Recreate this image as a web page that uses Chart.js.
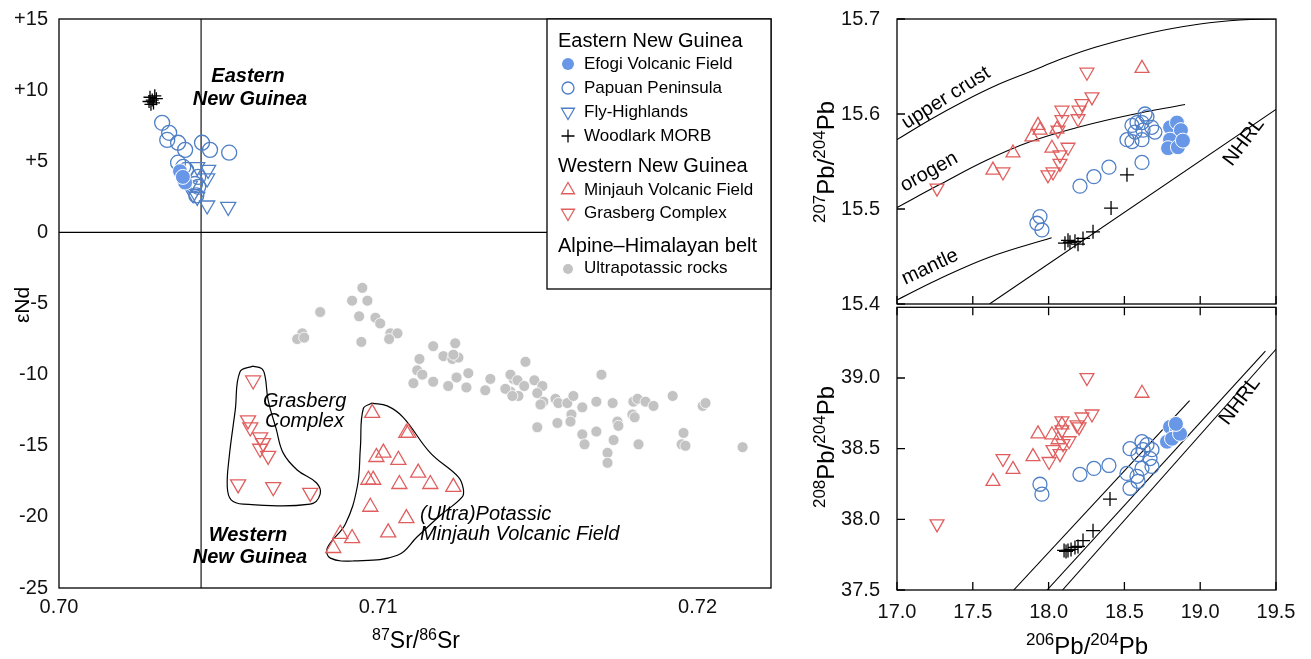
<!DOCTYPE html>
<html><head><meta charset="utf-8">
<script src="https://cdn.jsdelivr.net/npm/chart.js@4.4.1/dist/chart.umd.min.js"></script>
<style>
html,body{margin:0;padding:0;background:#fff;width:1311px;height:659px;overflow:hidden}
body{position:relative}
canvas{position:absolute}
#c1{left:0;top:0}
#c2{left:800px;top:0}
#c3{left:800px;top:298px}
</style></head><body>
<canvas id="c1" width="800" height="659" style="width:800px;height:659px"></canvas>
<canvas id="c2" width="511" height="340" style="width:511px;height:340px"></canvas>
<canvas id="c3" width="511" height="361" style="width:511px;height:361px"></canvas>
<script>
// ---------------- DATA: 87Sr/86Sr vs eNd ----------------
const srNd_Efogi = [[0.70379,4.3],[0.70395,3.5],[0.70388,3.9]];
const srNd_Papuan = [[0.70323,7.7],[0.70345,7.0],[0.70339,6.5],[0.70373,6.3],[0.70395,5.8],[0.70448,6.3],[0.70473,5.8],[0.70533,5.6],[0.70373,4.9],[0.70389,4.6],[0.70398,4.4],[0.70436,3.9],[0.70426,3.4],[0.70436,3.2],[0.70430,2.6]];
const srNd_Fly = [[0.70433,4.6],[0.70467,4.4],[0.70464,3.8],[0.70410,3.3],[0.70420,2.7],[0.70433,2.5],[0.70464,1.9],[0.70530,1.8]];
const srNd_Woodlark = [[0.70285,9.5],[0.70292,9.3],[0.70300,9.6],[0.70288,9.0],[0.70296,9.1],[0.70305,9.4],[0.70282,9.2]];
const srNd_Minjauh = [[0.70981,-12.7],[0.71088,-14.1],[0.71094,-14.1],[0.70994,-15.8],[0.71016,-15.5],[0.71063,-16.0],[0.71125,-16.9],[0.71163,-17.7],[0.71235,-17.9],[0.70969,-17.4],[0.70984,-17.4],[0.71066,-17.7],[0.70975,-19.3],[0.71088,-20.1],[0.71031,-21.1],[0.70881,-21.2],[0.70918,-21.5],[0.70859,-22.2]];
const srNd_Grasberg = [[0.70608,-10.4],[0.70592,-13.2],[0.70599,-13.7],[0.70630,-14.4],[0.70639,-14.8],[0.70630,-15.2],[0.70655,-15.7],[0.70561,-17.7],[0.70671,-17.9],[0.70787,-18.3]];
const srNd_Ultra = [
[0.70950,-3.9],[0.70918,-4.8],[0.70966,-4.8],[0.70818,-5.6],[0.70940,-5.9],[0.70991,-6.0],[0.71006,-6.4],
[0.70762,-7.1],[0.70746,-7.5],[0.70768,-7.4],[0.70947,-7.7],[0.71038,-7.1],[0.71060,-7.1],[0.71034,-7.5],
[0.71172,-8.0],[0.71241,-7.8],[0.71204,-8.7],[0.71232,-8.9],[0.71251,-8.8],[0.71235,-8.6],[0.71129,-8.9],
[0.71122,-9.7],[0.71138,-10.0],[0.71110,-10.6],[0.71172,-10.5],[0.71219,-10.8],[0.71245,-10.2],[0.71282,-9.9],
[0.71276,-10.9],[0.71351,-10.3],[0.71335,-11.1],[0.71423,-10.3],[0.71461,-9.1],[0.71414,-11.2],[0.71439,-11.5],
[0.71414,-10.0],[0.71436,-10.4],[0.71457,-10.8],[0.71398,-11.0],[0.71420,-11.5],
[0.71489,-10.4],[0.71514,-10.8],[0.71498,-11.3],[0.71517,-11.9],[0.71508,-12.1],[0.71555,-11.7],[0.71564,-12.0],
[0.71592,-12.0],[0.71611,-11.5],[0.71639,-12.3],[0.71605,-12.8],[0.71602,-13.3],[0.71498,-13.7],[0.71561,-13.4],
[0.71639,-14.2],[0.71646,-14.9],[0.71683,-11.9],[0.71683,-14.0],[0.71699,-10.0],[0.71734,-12.0],[0.71749,-13.3],
[0.71752,-13.6],[0.71737,-14.6],[0.71718,-15.5],[0.71718,-16.2],[0.71796,-12.8],[0.71803,-13.0],[0.71799,-11.9],
[0.71812,-11.7],[0.71837,-11.9],[0.71862,-12.2],[0.71815,-14.9],[0.71922,-11.5],[0.71956,-14.1],[0.71950,-14.9],
[0.71962,-15.0],[0.72016,-12.2],[0.72025,-12.0],[0.72141,-15.1]];
const srNd_GrasbergOutline = [[0.70608,-9.4],[0.70567,-9.8],[0.70552,-12.5],[0.70533,-15.8],[0.70527,-17.9],[0.70539,-18.8],[0.70577,-19.1],[0.70787,-19.1],[0.70818,-18.4],[0.70806,-17.6],[0.70746,-16.7],[0.70702,-15.5],[0.70680,-13.8],[0.70655,-11.8],[0.70646,-10.2],[0.70636,-9.6],[0.70608,-9.4]];
const srNd_MinjauhOutline = [[0.70981,-12.0],[0.70953,-12.4],[0.70944,-15.1],[0.70934,-17.9],[0.70897,-20.5],[0.70840,-22.2],[0.70850,-22.9],[0.70922,-23.1],[0.71060,-22.7],[0.71122,-21.4],[0.71194,-19.9],[0.71263,-18.6],[0.71266,-18.0],[0.71251,-17.2],[0.71163,-15.5],[0.71078,-13.0],[0.71028,-12.2],[0.70981,-12.0]];
const srRefLine = [[0.70445,-25],[0.70445,15]];
const ndZeroLine = [[0.70,0],[0.7223,0]];
const srTicks = [0.70,0.71,0.72];
const ndTicks = [-25,-20,-15,-10,-5,0,5,10,15];

// ---------------- DATA: 206Pb/204Pb vs 207Pb/204Pb ----------------
const pb7_Efogi = [[18.801,15.586],[18.847,15.591],[18.873,15.583],[18.801,15.573],[18.788,15.564],[18.853,15.565],[18.886,15.572]];
const pb7_Papuan = [[17.943,15.492],[17.956,15.478],[17.923,15.485],[18.207,15.524],[18.299,15.534],[18.398,15.544],[18.616,15.549],[18.517,15.573],[18.550,15.571],[18.616,15.573],[18.570,15.581],[18.616,15.591],[18.649,15.597],[18.636,15.600],[18.680,15.586],[18.701,15.581],[18.583,15.591],[18.550,15.588],[18.623,15.583]];
const pb7_Woodlark = [[18.517,15.536],[18.412,15.501],[18.293,15.476],[18.227,15.469],[18.174,15.466],[18.141,15.465],[18.108,15.464],[18.194,15.463],[18.128,15.467]];
const pb7_Minjauh = [[18.616,15.648],[17.930,15.588],[17.943,15.583],[17.890,15.576],[17.765,15.559],[17.633,15.541],[18.055,15.584],[18.022,15.564]];
const pb7_Grasberg = [[18.253,15.644],[18.286,15.618],[18.220,15.611],[18.201,15.604],[18.088,15.604],[18.088,15.594],[18.194,15.595],[18.062,15.583],[18.128,15.565],[18.075,15.557],[18.075,15.548],[17.996,15.536],[18.029,15.539],[17.699,15.539],[17.264,15.522]];
const upperCrust = [[17.0,15.573],[17.218,15.594],[17.435,15.613],[17.66,15.6305],[17.877,15.6445],[18.095,15.6586],[18.319,15.6708],[18.669,15.6853],[18.999,15.6947],[19.263,15.699],[19.5,15.7]];
const orogen = [[17.0,15.5016],[17.284,15.526],[17.594,15.5516],[17.877,15.5708],[18.207,15.5866],[18.537,15.599],[18.9,15.61]];
const mantle = [[17.0,15.4042],[17.264,15.4253],[17.613,15.4495],[18.02,15.4698]];
const nhrl7 = [[17.61,15.4],[19.5,15.6048]];
const pb7Ticks = [15.4,15.5,15.6,15.7];

// ---------------- DATA: 206Pb/204Pb vs 208Pb/204Pb ----------------
const pb8_Efogi = [[18.801,38.654],[18.847,38.633],[18.781,38.549],[18.814,38.570],[18.867,38.605],[18.840,38.675]];
const pb8_Papuan = [[17.943,38.248],[17.956,38.178],[18.207,38.318],[18.299,38.360],[18.398,38.381],[18.517,38.325],[18.537,38.500],[18.616,38.549],[18.649,38.528],[18.623,38.493],[18.590,38.458],[18.682,38.493],[18.616,38.360],[18.682,38.374],[18.583,38.304],[18.590,38.269],[18.537,38.220],[18.669,38.430]];
const pb8_Woodlark = [[18.405,38.143],[18.293,37.920],[18.227,37.850],[18.174,37.801],[18.128,37.780],[18.102,37.780],[18.148,37.787],[18.194,37.808],[18.115,37.773]];
const pb8_Minjauh = [[18.616,38.892],[17.930,38.605],[18.022,38.598],[18.088,38.668],[17.897,38.444],[17.765,38.353],[17.633,38.269],[18.062,38.563]];
const pb8_Grasberg = [[18.253,39.003],[18.286,38.745],[18.220,38.724],[18.201,38.654],[18.088,38.696],[18.088,38.633],[18.135,38.556],[18.095,38.535],[18.029,38.493],[18.003,38.409],[18.075,38.465],[17.699,38.430],[17.264,37.968],[18.187,38.668]];
const nhrl8 = [[18.092,37.5],[19.5,39.203]];
const refLine8a = [[17.77,37.5],[18.93,38.84]];
const refLine8b = [[17.99,37.5],[19.43,39.19]];
const pb6Ticks = [17.0,17.5,18.0,18.5,19.0,19.5];
const pb8Ticks = [37.5,38.0,38.5,39.0];

// ---------------- STYLE ----------------
const FONT = "'Liberation Sans', Arial, Helvetica, sans-serif";
const BLUE = '#4f7fc6';
const BLUE_FILL = '#6797e6';
const RED = '#e15e5e';
const GRAY = '#c3c3c3';
const pts = a => a.map(p => ({x:p[0], y:p[1]}));

function openCircle(data, r){ return {data:pts(data), pointStyle:'circle', pointRadius:r, backgroundColor:'rgba(0,0,0,0)', borderColor:BLUE, borderWidth:1.3, order:2}; }
function filledCircle(data, r){ return {data:pts(data), pointStyle:'circle', pointRadius:r, backgroundColor:BLUE_FILL, borderColor:'#fff', borderWidth:1, order:1}; }
function tri(data, r, color, down){ return {data:pts(data), pointStyle:'triangle', pointRotation: down?180:0, pointRadius:r, backgroundColor:'rgba(0,0,0,0)', borderColor:color, borderWidth:1.3, order:2}; }
function cross(data, r){ return {data:pts(data), pointStyle:'cross', pointRadius:r, borderColor:'#000', borderWidth:1.3, order:1}; }
function curve(data, w){ return {data:pts(data), showLine:true, pointRadius:0, borderColor:'#000', borderWidth:w||1.1, tension:0.4, fill:false, order:10}; }

function drawRich(ctx, parts, cx, cy, rot, base, sup){
  ctx.save(); ctx.translate(cx, cy); ctx.rotate(rot);
  let w = 0;
  parts.forEach(p => { ctx.font = (p[1]?sup:base)+'px '+FONT; w += ctx.measureText(p[0]).width; });
  let x = -w/2; const bl = base*0.36;
  ctx.textBaseline = 'alphabetic'; ctx.textAlign = 'left'; ctx.fillStyle = '#000';
  parts.forEach(p => { ctx.font = (p[1]?sup:base)+'px '+FONT; ctx.fillText(p[0], x, p[1] ? bl - base*0.38 : bl); x += ctx.measureText(p[0]).width; });
  ctx.restore();
}
function drawMarker(ctx, kind, x, y){
  ctx.save(); ctx.lineWidth = 1.3;
  const triPath = (r, down) => { const s = down?-1:1; ctx.beginPath(); ctx.moveTo(x, y - s*r); ctx.lineTo(x + r*0.866, y + s*r/2); ctx.lineTo(x - r*0.866, y + s*r/2); ctx.closePath(); };
  if (kind==='efogi'){ ctx.fillStyle = BLUE_FILL; ctx.beginPath(); ctx.arc(x,y,6,0,Math.PI*2); ctx.fill(); }
  else if (kind==='papuan'){ ctx.strokeStyle = BLUE; ctx.beginPath(); ctx.arc(x,y,6,0,Math.PI*2); ctx.stroke(); }
  else if (kind==='fly'){ ctx.strokeStyle = BLUE; triPath(7.5,true); ctx.stroke(); }
  else if (kind==='woodlark'){ ctx.strokeStyle = '#000'; ctx.beginPath(); ctx.moveTo(x-6.5,y); ctx.lineTo(x+6.5,y); ctx.moveTo(x,y-6.5); ctx.lineTo(x,y+6.5); ctx.stroke(); }
  else if (kind==='minjauh'){ ctx.strokeStyle = RED; triPath(7.5,false); ctx.stroke(); }
  else if (kind==='grasberg'){ ctx.strokeStyle = RED; triPath(7.5,true); ctx.stroke(); }
  else if (kind==='ultra'){ ctx.fillStyle = GRAY; ctx.beginPath(); ctx.arc(x,y+1,5,0,Math.PI*2); ctx.fill(); }
  ctx.restore();
}
const legendRows = [
  ['h','Eastern New Guinea',41],['efogi','Efogi Volcanic Field',64],['papuan','Papuan Peninsula',88],['fly','Fly-Highlands',112],['woodlark','Woodlark MORB',136],
  ['h','Western New Guinea',166],['minjauh','Minjauh Volcanic Field',190],['grasberg','Grasberg Complex',213],
  ['h','Alpine\u2013Himalayan belt',246],['ultra','Ultrapotassic rocks',268]
];

function decor(cfg){
  return { id:'decor', afterDatasetsDraw(chart){
    const ctx = chart.ctx, a = chart.chartArea, sx = chart.scales.x, sy = chart.scales.y;
    ctx.save();
    ctx.strokeStyle = '#000'; ctx.lineWidth = 1.3;
    ctx.strokeRect(a.left, a.top, a.right-a.left, a.bottom-a.top);
    const L = 8; ctx.beginPath();
    (cfg.tickLeft||[]).forEach(v => { const y = sy.getPixelForValue(v); ctx.moveTo(a.left,y); ctx.lineTo(a.left+L,y); });
    (cfg.tickBottom||[]).forEach(v => { const x = sx.getPixelForValue(v); ctx.moveTo(x,a.bottom); ctx.lineTo(x,a.bottom-L); });
    (cfg.tickTop||[]).forEach(v => { const x = sx.getPixelForValue(v); ctx.moveTo(x,a.top); ctx.lineTo(x,a.top+L); });
    ctx.stroke();
    const ox = cfg.ox||0, oy = cfg.oy||0;
    (cfg.texts||[]).forEach(t => {
      ctx.save(); ctx.translate(t.x-ox, t.y-oy); ctx.rotate((t.rot||0)*Math.PI/180);
      ctx.font = t.font + ' ' + FONT; ctx.fillStyle = '#000'; ctx.textAlign = t.align||'center'; ctx.textBaseline = 'middle';
      ctx.fillText(t.t, 0, 0); ctx.restore();
    });
    (cfg.titles||[]).forEach(t => drawRich(ctx, t.parts, t.x-ox, t.y-oy, (t.rot||0)*Math.PI/180, t.base, t.sup));
    if (cfg.legend){
      const L0 = 547, T0 = 19, R0 = 771, B0 = 289;
      ctx.fillStyle = '#fff'; ctx.fillRect(L0, T0, R0-L0, B0-T0);
      ctx.strokeStyle = '#000'; ctx.lineWidth = 1.3; ctx.strokeRect(L0, T0, R0-L0, B0-T0);
      legendRows.forEach(r => {
        ctx.fillStyle = '#000'; ctx.textBaseline = 'middle'; ctx.textAlign = 'left';
        if (r[0]==='h'){ ctx.font = '20px '+FONT; ctx.fillText(r[1], 558, r[2]); }
        else { drawMarker(ctx, r[0], 568, r[2]); ctx.fillStyle = '#000'; ctx.font = '17px '+FONT; ctx.fillText(r[1], 584, r[2]); }
      });
    }
    ctx.restore();
  }};
}

const tickFont = {family: FONT, size: 20};
const noPad = s => { s.paddingTop = 0; s.paddingBottom = 0; s.paddingLeft = 0; s.paddingRight = 0; };
const baseOpts = (xs, ys, pad) => ({
  responsive:false, animation:false, events:[],
  layout:{padding:pad},
  plugins:{legend:{display:false}, tooltip:{enabled:false}},
  scales:{x:xs, y:ys}
});

// ---------- Chart 1 ----------
new Chart(document.getElementById('c1'), {
  type:'scatter',
  data:{datasets:[
    {data:pts(srRefLine), showLine:true, pointRadius:0, borderColor:'#000', borderWidth:1.1, order:20},
    {data:pts(ndZeroLine), showLine:true, pointRadius:0, borderColor:'#000', borderWidth:1.1, order:20},
    curve(srNd_GrasbergOutline, 1.2), curve(srNd_MinjauhOutline, 1.2),
    {data:pts(srNd_Ultra), pointStyle:'circle', pointRadius:5.5, backgroundColor:GRAY, borderColor:'#fff', borderWidth:0.8, order:5},
    tri(srNd_Fly, 8.7, BLUE, true),
    openCircle(srNd_Papuan, 7.5),
    filledCircle(srNd_Efogi, 7.5),
    cross(srNd_Woodlark, 6.5),
    tri(srNd_Minjauh, 8.7, RED, false),
    tri(srNd_Grasberg, 8.7, RED, true)
  ]},
  options: baseOpts(
    {type:'linear', min:0.70, max:0.7223, afterFit:s=>{s.height=71; noPad(s);}, grid:{display:false, drawTicks:false}, border:{display:false},
      afterBuildTicks:s=>{ s.ticks = srTicks.map(v=>({value:v})); },
      ticks:{font:tickFont, color:'#111', padding:7, autoSkip:false, maxRotation:0, callback:v=>v.toFixed(2)}},
    {type:'linear', min:-25, max:15, afterFit:s=>{s.width=59; noPad(s);}, grid:{display:false, drawTicks:false}, border:{display:false},
      afterBuildTicks:s=>{ s.ticks = ndTicks.map(v=>({value:v})); },
      ticks:{font:tickFont, color:'#111', padding:11, autoSkip:false, callback:v=> v>0 ? '+'+v : String(v)}},
    {top:19, right:29, bottom:0, left:0}),
  plugins:[decor({legend:true,
    texts:[
      {t:'Eastern', x:248, y:76, font:'italic bold 20px'},
      {t:'New Guinea', x:250, y:99, font:'italic bold 20px'},
      {t:'Western', x:248, y:535, font:'italic bold 20px'},
      {t:'New Guinea', x:250, y:557, font:'italic bold 20px'},
      {t:'Grasberg', x:263, y:401, font:'italic 20px', align:'left'},
      {t:'Complex', x:265, y:421, font:'italic 20px', align:'left'},
      {t:'(Ultra)Potassic', x:420, y:514, font:'italic 20px', align:'left'},
      {t:'Minjauh Volcanic Field', x:420, y:534, font:'italic 20px', align:'left'}
    ],
    titles:[
      {parts:[['\u03b5Nd',false]], x:21, y:305, rot:-90, base:21, sup:15},
      {parts:[['87',true],['Sr/',false],['86',true],['Sr',false]], x:416, y:640, base:23, sup:16}
    ]})]
});

// ---------- Chart 2 ----------
new Chart(document.getElementById('c2'), {
  type:'scatter',
  data:{datasets:[
    curve(upperCrust), curve(orogen), curve(mantle),
    {data:pts(nhrl7), showLine:true, pointRadius:0, borderColor:'#000', borderWidth:1.1, order:10},
    openCircle(pb7_Papuan, 7),
    filledCircle(pb7_Efogi, 7.5),
    cross(pb7_Woodlark, 7),
    tri(pb7_Minjauh, 8, RED, false),
    tri(pb7_Grasberg, 8, RED, true)
  ]},
  options: baseOpts(
    {type:'linear', min:17.0, max:19.5, display:false},
    {type:'linear', min:15.4, max:15.7, afterFit:s=>{s.width=97; noPad(s);}, grid:{display:false, drawTicks:false}, border:{display:false},
      afterBuildTicks:s=>{ s.ticks = pb7Ticks.map(v=>({value:v})); },
      ticks:{font:tickFont, color:'#111', padding:17, autoSkip:false, callback:v=>v.toFixed(1)}},
    {top:19, right:35, bottom:36, left:0}),
  plugins:[decor({ox:800, oy:0, tickLeft:pb7Ticks, tickBottom:pb6Ticks,
    texts:[
      {t:'upper crust', x:946, y:98, rot:-32, font:'20px'},
      {t:'orogen', x:929, y:172, rot:-29, font:'20px'},
      {t:'mantle', x:930, y:267, rot:-25, font:'20px'},
      {t:'NHRL', x:1244, y:142, rot:-53, font:'20px'}
    ],
    titles:[{parts:[['207',true],['Pb/',false],['204',true],['Pb',false]], x:825, y:162, rot:-90, base:24, sup:17}]
  })]
});

// ---------- Chart 3 ----------
new Chart(document.getElementById('c3'), {
  type:'scatter',
  data:{datasets:[
    {data:pts(nhrl8), showLine:true, pointRadius:0, borderColor:'#000', borderWidth:1.1, order:10},
    {data:pts(refLine8a), showLine:true, pointRadius:0, borderColor:'#000', borderWidth:1.1, order:10},
    {data:pts(refLine8b), showLine:true, pointRadius:0, borderColor:'#000', borderWidth:1.1, order:10},
    openCircle(pb8_Papuan, 7),
    filledCircle(pb8_Efogi, 7.5),
    cross(pb8_Woodlark, 7),
    tri(pb8_Minjauh, 8, RED, false),
    tri(pb8_Grasberg, 8, RED, true)
  ]},
  options: baseOpts(
    {type:'linear', min:17.0, max:19.5, afterFit:s=>{s.height=69; noPad(s);}, grid:{display:false, drawTicks:false}, border:{display:false},
      afterBuildTicks:s=>{ s.ticks = pb6Ticks.map(v=>({value:v})); },
      ticks:{font:tickFont, color:'#111', padding:10, autoSkip:false, maxRotation:0, callback:v=>v.toFixed(1)}},
    {type:'linear', min:37.5, max:39.5, afterFit:s=>{s.width=97; noPad(s);}, grid:{display:false, drawTicks:false}, border:{display:false},
      afterBuildTicks:s=>{ s.ticks = pb8Ticks.map(v=>({value:v})); },
      ticks:{font:tickFont, color:'#111', padding:17, autoSkip:false, callback:v=>v.toFixed(1)}},
    {top:6, right:35, bottom:0, left:0}),
  plugins:[decor({ox:800, oy:298, tickLeft:pb8Ticks, tickBottom:pb6Ticks, tickTop:pb6Ticks,
    texts:[{t:'NHRL', x:1240, y:401, rot:-53, font:'20px'}],
    titles:[
      {parts:[['208',true],['Pb/',false],['204',true],['Pb',false]], x:825, y:447, rot:-90, base:24, sup:17},
      {parts:[['206',true],['Pb/',false],['204',true],['Pb',false]], x:1087, y:645, base:24, sup:17}
    ]
  })]
});
</script>
</body></html>
